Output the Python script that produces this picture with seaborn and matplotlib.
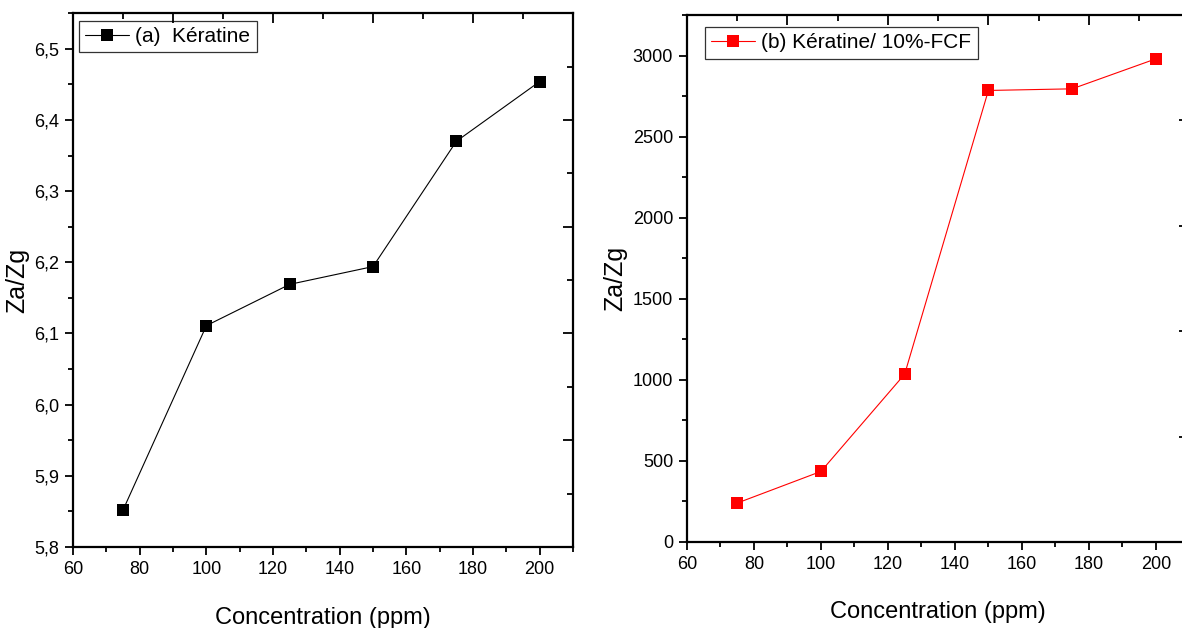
import matplotlib
matplotlib.use("Agg")
import matplotlib.pyplot as plt
import seaborn as sns
import pandas as pd
from matplotlib.ticker import MultipleLocator, FuncFormatter, NullFormatter

# ---- data ----
concentration = [75, 100, 125, 150, 175, 200]
za_zg_keratine = [5.852, 6.111, 6.169, 6.194, 6.370, 6.454]
za_zg_keratine_fcf = [240, 435, 1035, 2785, 2795, 2980]
label_a = "(a)  Kératine"
label_b = "(b) Kératine/ 10%-FCF"
xlabel = "Concentration (ppm)"
ylabel = "Za/Zg"

sns.set_style("ticks")
plt.rcParams['font.family'] = ['Liberation Sans', 'DejaVu Sans']
plt.rcParams['text.color'] = 'black'
plt.rcParams['axes.labelcolor'] = 'black'

fig = plt.figure(figsize=(11.82, 6.28), dpi=100)
ax1 = fig.add_axes([0.0618, 0.129, 0.4230, 0.850])
ax2 = fig.add_axes([0.5812, 0.137, 0.4250, 0.839])

df_a = pd.DataFrame({"x": concentration, "y": za_zg_keratine})
df_b = pd.DataFrame({"x": concentration, "y": za_zg_keratine_fcf})

sns.lineplot(data=df_a, x="x", y="y", ax=ax1, color="black", lw=0.8,
             marker="s", markersize=8, markeredgewidth=0, label=label_a)
sns.lineplot(data=df_b, x="x", y="y", ax=ax2, color="#ff0000", lw=0.8,
             marker="s", markersize=9, markeredgewidth=0, label=label_b)

comma_fmt = FuncFormatter(lambda v, p: f"{v:.1f}".replace('.', ','))

def style(ax, ylim, ymaj, ymin, yfmt=None, legend_anchor=(0.01, 0.99),
          ylabel_x=-0.09, xlabelpad=20):
    ax.set_xlim(60, 210)
    ax.set_ylim(*ylim)
    ax.xaxis.set_major_locator(MultipleLocator(20))
    ax.xaxis.set_minor_locator(MultipleLocator(10))
    ax.yaxis.set_major_locator(MultipleLocator(ymaj))
    ax.yaxis.set_minor_locator(MultipleLocator(ymin))
    if yfmt is not None:
        ax.yaxis.set_major_formatter(yfmt)
    ax.tick_params(axis='both', which='major', direction='out', length=6,
                   width=1.3, labelsize=13, color='black', labelcolor='black',
                   top=False, right=False, pad=4)
    ax.tick_params(axis='both', which='minor', direction='out', length=3.5,
                   width=1.3, color='black', top=False, right=False)
    for s in ax.spines.values():
        s.set_visible(True)
        s.set_linewidth(1.6)
        s.set_color('black')
    ax.set_xlabel(xlabel, fontsize=17, labelpad=xlabelpad, color='black')
    ax.set_ylabel(ylabel, fontsize=18, color='black')
    ax.yaxis.set_label_coords(ylabel_x, 0.5)
    leg = ax.legend(loc='upper left', bbox_to_anchor=legend_anchor,
                    fontsize=15, frameon=True, fancybox=False, shadow=False,
                    handlelength=2.1, handletextpad=0.3, borderpad=0.3,
                    borderaxespad=0.0)
    leg.get_frame().set_edgecolor('black')
    leg.get_frame().set_linewidth(0.9)
    for t in leg.get_texts():
        t.set_color('black')
    # unlinked top / right axes with inward ticks
    tx = ax.twiny()
    tx.set_xlim(0, 1)
    tx.xaxis.set_major_locator(MultipleLocator(0.2))
    tx.xaxis.set_minor_locator(MultipleLocator(0.1))
    tx.xaxis.set_major_formatter(NullFormatter())
    tx.tick_params(axis='x', which='major', direction='in', length=7, width=1.3, color='black')
    tx.tick_params(axis='x', which='minor', direction='in', length=4, width=1.3, color='black')
    for s in tx.spines.values():
        s.set_visible(False)
    ty = ax.twinx()
    ty.set_ylim(0, 1)
    ty.yaxis.set_major_locator(MultipleLocator(0.2))
    ty.yaxis.set_minor_locator(MultipleLocator(0.1))
    ty.yaxis.set_major_formatter(NullFormatter())
    ty.tick_params(axis='y', which='major', direction='in', length=7, width=1.3, color='black')
    ty.tick_params(axis='y', which='minor', direction='in', length=4, width=1.3, color='black')
    for s in ty.spines.values():
        s.set_visible(False)

style(ax1, (5.8, 6.55), 0.1, 0.05, comma_fmt, legend_anchor=(0.012, 0.986),
      ylabel_x=-0.088, xlabelpad=21)
style(ax2, (0, 3250), 500, 250, None, legend_anchor=(0.036, 0.977),
      ylabel_x=-0.118, xlabelpad=20)

fig.savefig("out.png", dpi=100, facecolor='white')
